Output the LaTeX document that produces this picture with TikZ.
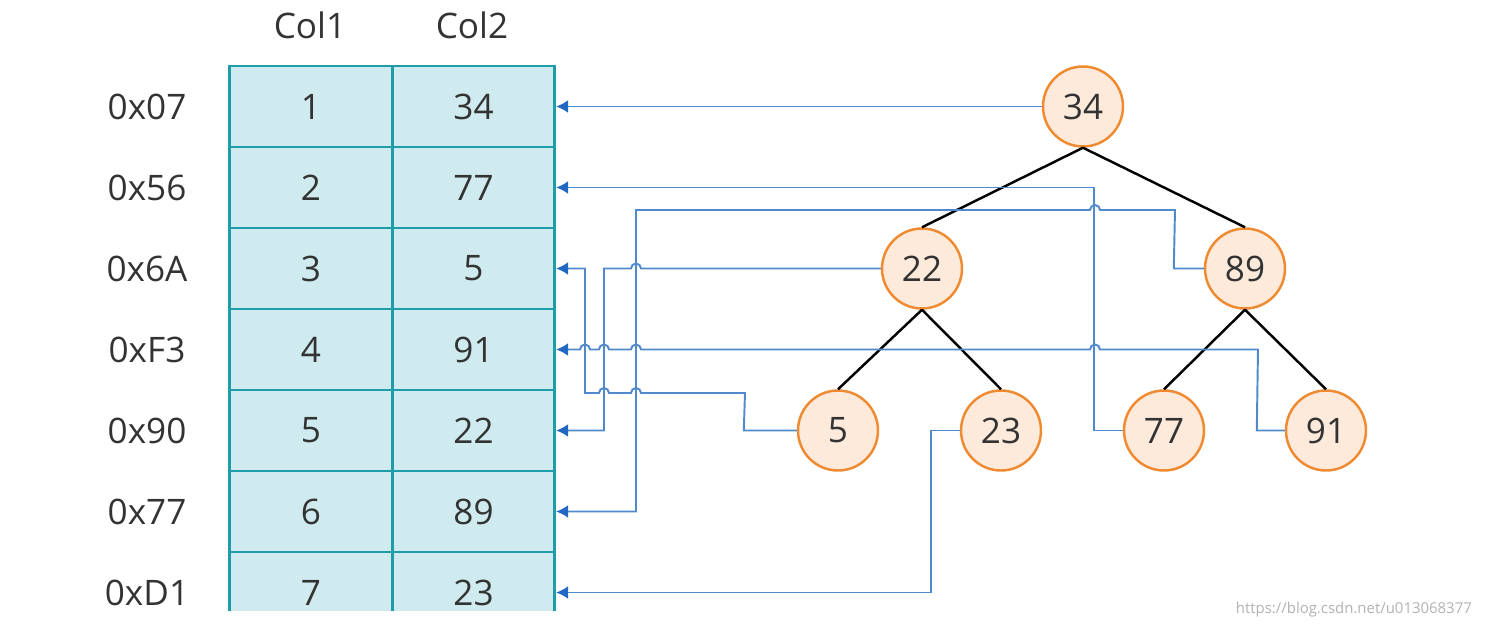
\documentclass[tikz,border=0pt]{standalone}
\usepackage{fontspec}
\setmainfont{Open Sans}
\usetikzlibrary{arrows.meta, positioning}
\definecolor{cellfill}{HTML}{CFEBEF}
\definecolor{cellline}{HTML}{1E9CA8}
\definecolor{keyfill}{HTML}{FDEADB}
\definecolor{keyline}{HTML}{F08A30}
\definecolor{linkblue}{HTML}{5089CC}
\definecolor{tipblue}{HTML}{2068C0}
\definecolor{txt}{HTML}{333333}
\tikzset{
  cell/.style={rectangle, draw=cellline, fill=cellfill, line width=1.6pt,
    minimum width=3.25cm, minimum height=1.62cm, inner sep=0pt,
    font=\fontsize{20}{22}\selectfont, text=txt},
  addr/.style={font=\fontsize{20}{22}\selectfont, text=txt},
  hdr/.style={font=\fontsize{20}{22}\selectfont, text=txt},
  key/.style={circle, draw=keyline, fill=keyfill, line width=1.4pt,
    minimum size=1.6cm, inner sep=0pt, font=\fontsize{20}{22}\selectfont, text=txt},
  edge/.style={line width=1.4pt},
  link/.style={-{Latex[length=2.4mm,width=2.6mm,color=tipblue]}, draw=linkblue, line width=1.1pt}
}

\begin{document}
\begin{tikzpicture}[x=0.02cm, y=0.02cm]
\useasboundingbox (0,0) rectangle (1488,630);

% ---- tabla ----
\node[hdr] (h1) at (310,605) {Col1};
\node[hdr] (h2) at (472,605) {Col2};
\begin{scope}
\clip (0,20) rectangle (1488,630);
\foreach \k/\v [count=\i] in {1/34, 2/77, 3/5, 4/91, 5/22, 6/89, 7/23} {
  \node[cell] (a1-\i) at (311,{564-40.5-81*(\i-1)}) {\k};
  \node[cell] (a2-\i) at (473.5,{564-40.5-81*(\i-1)}) {\v};
}
\end{scope}
\foreach \ad [count=\i] in {0x07, 0x56, 0x6A, 0xF3, 0x90, 0x77, 0xD1} {
  \node[addr] (ad\i) at (147,{564-40.5-81*(\i-1)}) {\ad};
}

% ---- arbol ----
\node[key] (n34) at (1083,523.5) {34};
\node[key] (n22) at (922,361.5) {22};
\node[key] (n89) at (1245,361.5) {89};
\node[key] (n5) at (838,199.5) {5};
\node[key] (n23) at (1001,199.5) {23};
\node[key] (n77) at (1164,199.5) {77};
\node[key] (n91) at (1326,199.5) {91};

\draw[edge] (n34.south) -- (n22.north);
\draw[edge] (n34.south) -- (n89.north);
\draw[edge] (n22.south) -- (n5.north);
\draw[edge] (n22.south) -- (n23.north);
\draw[edge] (n89.south) -- (n77.north);
\draw[edge] (n89.south) -- (n91.north);

% ---- enlaces ----
\draw[link] (n34.west) -- (a2-1.east);
\draw[link] (n77.west) -- ++(-29,0) |- (a2-2.east);
\draw[link] (n89.west) -- ++(-30,0) -- (1175,420) -- (1100,420)
  arc[start angle=0, end angle=180, radius=0.1cm] -- (636,420) |- (a2-6.east);
\draw[link] (n22.west) -- (641,361.5)
  arc[start angle=0, end angle=180, radius=0.1cm] -- (604,361.5) |- (a2-5.east);
\draw[link] (n91.west) -- ++(-28,0) -- (1258,280.5) -- (1100,280.5)
  arc[start angle=0, end angle=180, radius=0.1cm] -- (641,280.5)
  arc[start angle=0, end angle=180, radius=0.1cm] -- (609,280.5)
  arc[start angle=0, end angle=180, radius=0.1cm] -- (590,280.5)
  arc[start angle=0, end angle=180, radius=0.1cm] -- (a2-4.east);
\draw[link] (n5.west) -- ++(-53,0) -- (745,237) -- (641,237)
  arc[start angle=0, end angle=180, radius=0.1cm] -- (609,237)
  arc[start angle=0, end angle=180, radius=0.1cm] -- (585,237) |- (a2-3.east);
\draw[link] (n23.west) -- ++(-29,0) |- (a2-7.east);

\node[font=\fontsize{8.5}{10}\selectfont, text=black!30, anchor=east] (wm) at (1478,20) {https://blog.csdn.net/u013068377};
\end{tikzpicture}
\end{document}
